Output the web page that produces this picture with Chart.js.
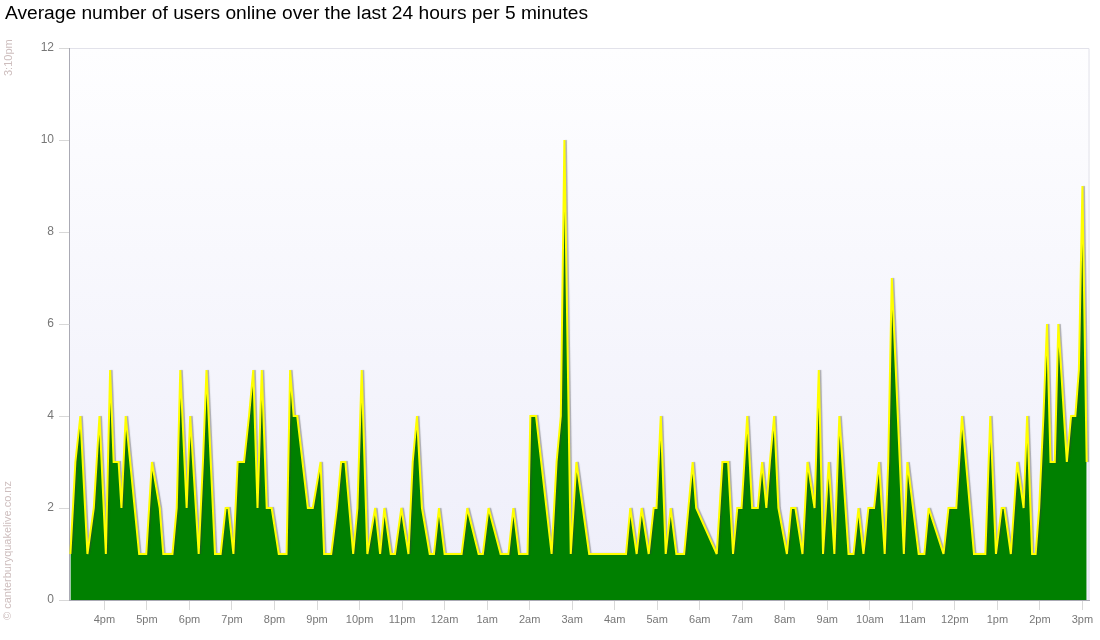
<!DOCTYPE html>
<html>
<head>
<meta charset="utf-8">
<script src="https://cdn.jsdelivr.net/npm/chart.js@4.4.1/dist/chart.umd.min.js"></script>
<style>
  body { margin: 0; background: #fff; }
  #wrap { position: relative; width: 1100px; height: 640px; }
  #title { position: absolute; left: 5px; top: 2px; font: 19.2px "Liberation Sans", Arial, sans-serif; color: #000; line-height: 22px; white-space: nowrap; }
  .side { position: absolute; font: 11px "Liberation Sans", Arial, sans-serif; color: #cdbdbd; line-height: 11px; white-space: nowrap; transform-origin: left top; transform: rotate(-90deg); }
  canvas { position: absolute; left: 0; top: 0; }
</style>
</head>
<body>
<div id="wrap">
  <canvas id="usersChart" width="1100" height="640"></canvas>
  <div id="title">Average number of users online over the last 24 hours per 5 minutes</div>
  <div class="side" style="left:3px; top:76px;">3:10pm</div>
  <div class="side" style="left:2px; top:620px;">© canterburyquakelive.co.nz</div>
</div>
<script>
// Samples (time of day, average users online)
const times = [
  '15:12','15:19','15:26','15:36','15:45','15:53','16:02','16:08','16:13','16:20',
  '16:24','16:30','16:49','16:59','17:07','17:18','17:23','17:36','17:42','17:47',
  '17:56','18:01','18:13','18:19','18:24','18:36','18:44','18:51','18:55','19:02',
  '19:08','19:17','19:24','19:30','19:36','19:42','19:49','19:56','20:06','20:17',
  '20:22','20:27','20:32','20:47','20:54','21:05','21:10','21:20','21:28','21:34',
  '21:40','21:51','21:57','22:03','22:11','22:22','22:29','22:35','22:44','22:50',
  '22:59','23:09','23:15','23:21','23:28','23:39','23:45','23:52','00:00','00:24',
  '00:32','00:48','00:54','01:02','01:19','01:30','01:37','01:45','01:57','02:01',
  '02:09','02:31','02:38','02:44','02:49','02:58','03:06','03:24','04:16','04:22',
  '04:31','04:38','04:48','04:55','04:59','05:05','05:12','05:19','05:27','05:38',
  '05:44','05:50','05:55','06:24','06:32','06:40','06:47','06:53','06:59','07:07',
  '07:14','07:22','07:28','07:34','07:39','07:45','07:51','08:03','08:09','08:15',
  '08:25','08:32','08:42','08:48','08:54','09:02','09:10','09:17','09:30','09:37',
  '09:44','09:51','09:58','10:06','10:13','10:21','10:26','10:31','10:48','10:53',
  '11:09','11:17','11:23','11:44','11:51','12:02','12:10','12:27','12:43','12:50',
  '12:58','13:06','13:10','13:19','13:28','13:37','13:42','13:49','13:54','13:59',
  '14:05','14:10','14:15','14:21','14:26','14:38','14:44','14:50','14:55','15:00','15:06'
];
const users = [
  1, 3, 4, 1, 2, 4, 1, 5, 3, 3,
  2, 4, 1, 1, 3, 2, 1, 1, 2, 5,
  2, 4, 1, 3, 5, 1, 1, 2, 2, 1,
  3, 3, 4, 5, 2, 5, 2, 2, 1, 1,
  5, 4, 4, 2, 2, 3, 1, 1, 2, 3,
  3, 1, 2, 5, 1, 2, 1, 2, 1, 1,
  2, 1, 3, 4, 2, 1, 1, 2, 1, 1,
  2, 1, 1, 2, 1, 1, 2, 1, 1, 4,
  4, 1, 3, 4, 10, 1, 3, 1, 1, 2,
  1, 2, 1, 2, 2, 4, 1, 2, 1, 1,
  2, 3, 2, 1, 3, 3, 1, 2, 2, 4,
  2, 2, 3, 2, 3, 4, 2, 1, 2, 2,
  1, 3, 2, 5, 1, 3, 1, 4, 1, 1,
  2, 1, 2, 2, 3, 1, 3, 7, 1, 3,
  1, 1, 2, 1, 2, 2, 4, 1, 1, 4,
  1, 2, 2, 1, 3, 2, 4, 1, 1, 2,
  4, 6, 3, 3, 6, 3, 4, 4, 5, 9, 3
];
const tickLabels = ['4pm','5pm','6pm','7pm','8pm','9pm','10pm','11pm','12am','1am','2am','3am',
  '4am','5am','6am','7am','8am','9am','10am','11am','12pm','1pm','2pm','3pm'];

// minutes since the window start (3:10pm)
const START = 15 * 60 + 10;
function toMinutes(t) {
    const [h, m] = t.split(':').map(Number);
    let v = h * 60 + m - START;
    if (v < 0) v += 1440;
    return v;
}
const points = times.map((t, i) => ({ x: toMinutes(t), y: users[i] }));

const plotBackground = {
    id: 'plotBackground',
    beforeDraw(chart) {
        const { ctx, chartArea: a } = chart;
        const g = ctx.createLinearGradient(0, a.top, 0, a.bottom);
        g.addColorStop(0, '#fefeff');
        g.addColorStop(1, '#eeeefa');
        ctx.save();
        ctx.fillStyle = g;
        ctx.fillRect(a.left, a.top, a.right - a.left, a.bottom - a.top);
        ctx.strokeStyle = '#e2e2ea';
        ctx.lineWidth = 1;
        ctx.beginPath();
        ctx.moveTo(a.left, a.top + 0.5);
        ctx.lineTo(a.right - 0.5, a.top + 0.5);
        ctx.lineTo(a.right - 0.5, a.bottom);
        ctx.stroke();
        ctx.restore();
    }
};

// small grey drop shadow to the right of the yellow line
const lineShadow = {
    id: 'lineShadow',
    beforeDatasetDraw(chart) {
        const ctx = chart.ctx;
        ctx.miterLimit = 2;
        ctx.shadowColor = 'rgba(60,60,60,0.4)';
        ctx.shadowOffsetX = 1.5;
        ctx.shadowOffsetY = 0;
        ctx.shadowBlur = 1;
    },
    afterDatasetDraw(chart) {
        const ctx = chart.ctx;
        ctx.miterLimit = 10;
        ctx.shadowColor = 'rgba(0,0,0,0)';
        ctx.shadowOffsetX = 0;
        ctx.shadowOffsetY = 0;
        ctx.shadowBlur = 0;
    }
};

function initUsersChart() {
    const ctx = document.getElementById('usersChart');
    new Chart(ctx, {
        type: 'line',
        data: {
            datasets: [{
                label: 'Users online',
                data: points,
                borderColor: '#ffff00',
                backgroundColor: '#008000',
                borderWidth: 2,
                fill: 'origin',
                tension: 0,
                pointRadius: 0,
                borderJoinStyle: 'miter'
            }]
        },
        options: {
            responsive: false,
            animation: false,
            layout: { padding: { top: 48, right: 10.5, left: 0, bottom: 0 } },
            plugins: {
                legend: { display: false },
                tooltip: { enabled: false }
            },
            scales: {
                x: {
                    type: 'linear',
                    min: 0,
                    max: 1440,
                    afterBuildTicks: (scale) => {
                        scale.ticks = tickLabels.map((_, i) => ({ value: 50 + 60 * i }));
                    },
                    afterFit: (scale) => { scale.height = 40; },
                    ticks: {
                        autoSkip: false,
                        maxRotation: 0,
                        padding: 3,
                        color: '#777',
                        font: { family: 'Liberation Sans, Arial, sans-serif', size: 11 },
                        callback: (v, i) => tickLabels[i]
                    },
                    grid: { drawOnChartArea: false, tickLength: 10, color: '#d8d8d8' },
                    border: { color: '#aaaab4' }
                },
                y: {
                    min: 0,
                    max: 12,
                    afterFit: (scale) => { scale.width = 69; },
                    ticks: {
                        stepSize: 2,
                        padding: 5,
                        color: '#777',
                        font: { family: 'Liberation Sans, Arial, sans-serif', size: 12 }
                    },
                    grid: { drawOnChartArea: false, tickLength: 10, color: '#d8d8d8' },
                    border: { color: '#aaaab4' }
                }
            }
        },
        plugins: [plotBackground, lineShadow]
    });
}

document.addEventListener('DOMContentLoaded', initUsersChart);
</script>
</body>
</html>
